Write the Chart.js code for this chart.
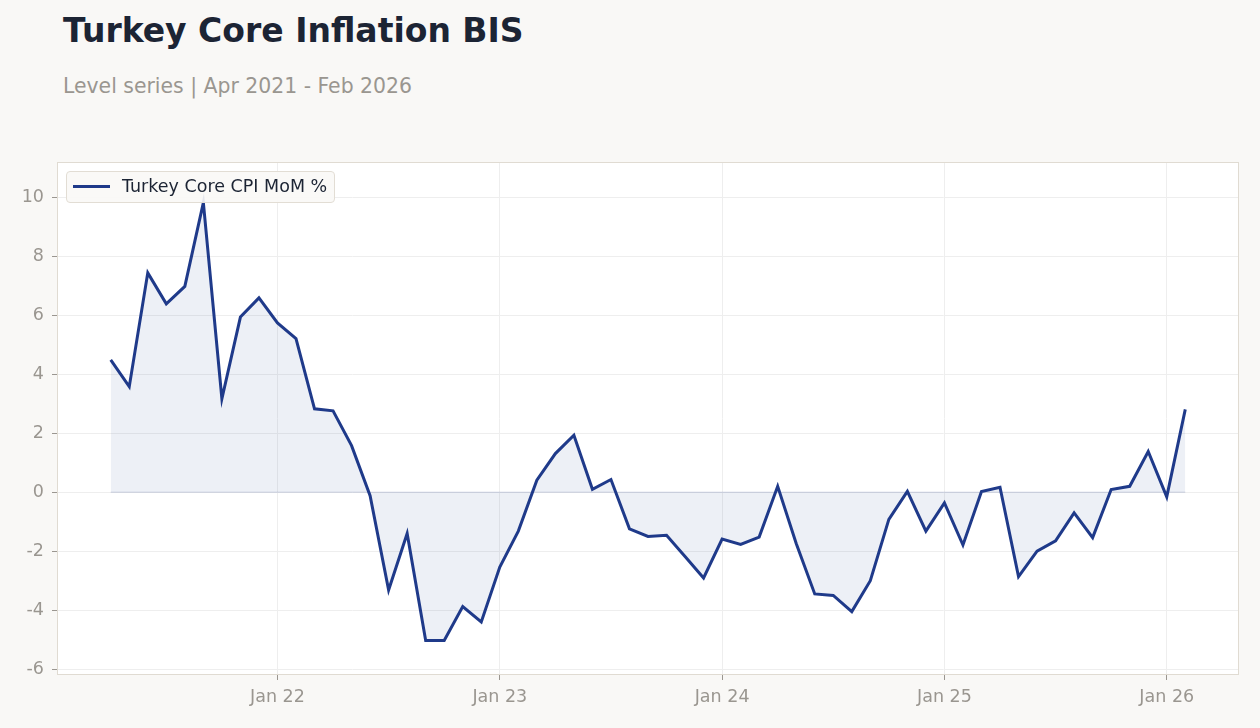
<!DOCTYPE html>
<html>
<head>
<meta charset="utf-8">
<script src="https://cdn.jsdelivr.net/npm/chart.js@4"></script>
<style>
  html, body { margin: 0; padding: 0; background: #f9f8f6; }
  body { width: 1260px; height: 728px; position: relative; overflow: hidden; font-family: "DejaVu Sans", sans-serif; }
  #title { position: absolute; left: 63px; top: 11px; font-size: 33px; font-weight: bold; color: #1c2434; white-space: nowrap; }
  #subtitle { position: absolute; left: 63px; top: 74px; font-size: 20.4px; color: #9a9690; white-space: nowrap; }
  #wrap { position: absolute; left: 0; top: 0; width: 1260px; height: 728px; }
  #legend { position: absolute; left: 66px; top: 171px; width: 267px; height: 30px; border: 1px solid #e2ddd4; border-radius: 4px; background: rgba(249, 248, 246, 0.9); font-size: 17.5px; color: #1c2434; }
  #legend .swatch { position: absolute; left: 6px; top: 13px; width: 37px; height: 3px; background: #1f3a8a; }
  #legend .label { position: absolute; left: 55px; top: 4px; white-space: nowrap; }
</style>
</head>
<body>
<div id="title">Turkey Core Inflation BIS</div>
<div id="subtitle">Level series | Apr 2021 - Feb 2026</div>
<div id="wrap"><canvas id="chart" width="1260" height="728"></canvas></div>
<div id="legend"><div class="swatch"></div><div class="label">Turkey Core CPI MoM %</div></div>
<script>
// Monthly observations, Apr 2021 - Feb 2026
const months = [
  "2021-04", "2021-05", "2021-06", "2021-07", "2021-08", "2021-09", "2021-10", "2021-11", "2021-12",
  "2022-01", "2022-02", "2022-03", "2022-04", "2022-05", "2022-06", "2022-07", "2022-08", "2022-09", "2022-10", "2022-11", "2022-12",
  "2023-01", "2023-02", "2023-03", "2023-04", "2023-05", "2023-06", "2023-07", "2023-08", "2023-09", "2023-10", "2023-11", "2023-12",
  "2024-01", "2024-02", "2024-03", "2024-04", "2024-05", "2024-06", "2024-07", "2024-08", "2024-09", "2024-10", "2024-11", "2024-12",
  "2025-01", "2025-02", "2025-03", "2025-04", "2025-05", "2025-06", "2025-07", "2025-08", "2025-09", "2025-10", "2025-11", "2025-12",
  "2026-01", "2026-02"
];
const coreCpiMoM = [
  4.49, 3.58, 7.44, 6.39, 6.98, 9.82, 3.17, 5.94, 6.59,
  5.74, 5.21, 2.83, 2.76, 1.58, -0.12, -3.32, -1.40, -5.03, -5.03, -3.88, -4.40,
  -2.54, -1.32, 0.41, 1.31, 1.93, 0.10, 0.43, -1.24, -1.50, -1.46, -2.18, -2.91,
  -1.59, -1.77, -1.52, 0.20, -1.74, -3.45, -3.50, -4.05, -3.00, -0.92, 0.03, -1.32,
  -0.36, -1.79, 0.02, 0.17, -2.86, -2.00, -1.65, -0.70, -1.54, 0.09, 0.20, 1.38,
  -0.16, 2.81
];
const yTicks = [-6, -4, -2, 0, 2, 4, 6, 8, 10];
const xTickLabels = ["Jan 22", "Jan 23", "Jan 24", "Jan 25", "Jan 26"];

// month index counted from Jan 2021
function monthIndex(s) {
  const [y, m] = s.split("-").map(Number);
  return (y - 2021) * 12 + (m - 1);
}
const xTickValues = xTickLabels.map((l) => (2000 + Number(l.slice(4)) - 2021) * 12);

const points = months.map((m, i) => ({ x: monthIndex(m), y: coreCpiMoM[i] }));
const zeroLine = [
  { x: monthIndex(months[0]), y: 0 },
  { x: monthIndex(months[months.length - 1]), y: 0 },
];

const lineColor = "#1f3a8a";
const tickColor = "#9a9690";
const gridColor = "#eeeeee";

// outline around the plot area
const frame = {
  id: "frame",
  afterDraw(chart) {
    const { ctx, chartArea: a } = chart;
    ctx.save();
    ctx.strokeStyle = "#e0dbd2";
    ctx.lineWidth = 1;
    ctx.strokeRect(a.left + 0.5, a.top + 0.5, a.right - a.left - 1, a.bottom - a.top - 1);
    ctx.restore();
  },
};
const plotBg = {
  id: "plotBg",
  beforeDraw(chart) {
    const { ctx, chartArea: a } = chart;
    ctx.save();
    ctx.fillStyle = "#ffffff";
    ctx.fillRect(a.left, a.top, a.right - a.left, a.bottom - a.top);
    ctx.restore();
  },
};

Chart.defaults.font.family = "'DejaVu Sans', sans-serif";

new Chart(document.getElementById("chart"), {
  type: "line",
  data: {
    datasets: [
      {
        label: "Turkey Core CPI MoM %",
        data: points,
        borderColor: lineColor,
        borderWidth: 3,
        backgroundColor: "rgba(31, 58, 138, 0.08)",
        fill: "origin",
        pointRadius: 0,
        tension: 0,
        order: 0,
      },
      {
        label: "zero",
        data: zeroLine,
        borderColor: "rgba(31, 58, 138, 0.12)",
        borderWidth: 1.5,
        pointRadius: 0,
        fill: false,
        order: 1,
      },
    ],
  },
  options: {
    responsive: false,
    animation: false,
    layout: { padding: { top: 162, right: 21, left: 0, bottom: 0 } },
    plugins: {
      legend: { display: false },
      tooltip: { enabled: false },
    },
    scales: {
      x: {
        type: "linear",
        min: 0.1,
        max: 63.9,
        afterFit: (s) => { s.height = 53; },
        afterBuildTicks: (s) => { s.ticks = xTickValues.map((v) => ({ value: v })); },
        grid: { color: gridColor, tickColor: tickColor, tickLength: 5 },
        border: { display: false },
        ticks: {
          color: tickColor,
          font: { size: 17.5 },
          padding: 7,
          maxRotation: 0,
          callback: (v) => xTickLabels[xTickValues.indexOf(v)] || "",
        },
      },
      y: {
        min: -6.2,
        max: 11.2,
        afterFit: (s) => { s.width = 57; },
        afterBuildTicks: (s) => { s.ticks = yTicks.map((v) => ({ value: v })); },
        grid: { color: gridColor, tickColor: tickColor, tickLength: 5 },
        border: { display: false },
        ticks: { color: tickColor, font: { size: 17.5 }, padding: 8 },
      },
    },
  },
  plugins: [plotBg, frame],
});
</script>
</body>
</html>
